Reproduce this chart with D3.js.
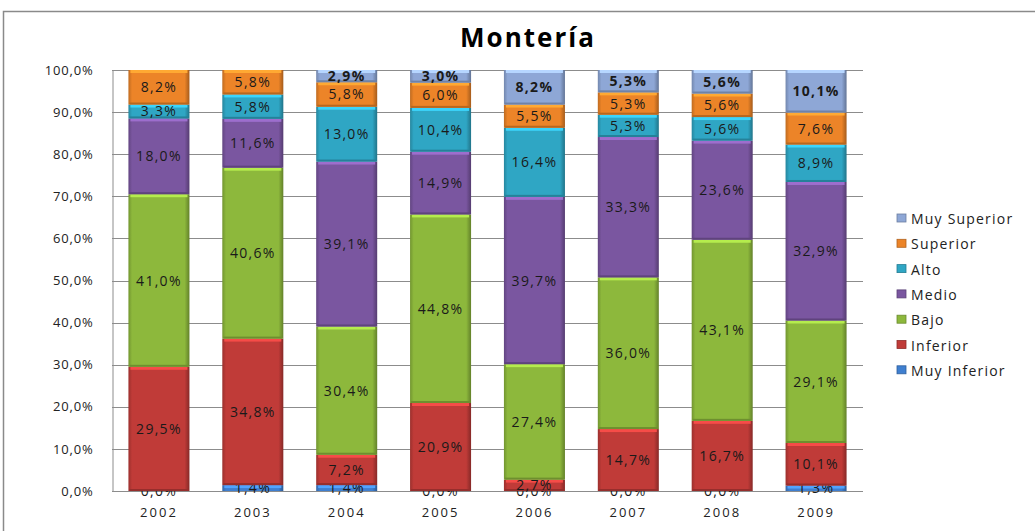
<!DOCTYPE html>
<html>
<head>
<meta charset="utf-8">
<script src="https://cdn.jsdelivr.net/npm/d3@7"></script>
<style>
  body { margin: 0; background: #fff; }
  svg { display: block; }
</style>
</head>
<body>
<svg id="chart"></svg>
<script>
// years on the x axis
const years = ['2002', '2003', '2004', '2005', '2006', '2007', '2008', '2009'];
// series, bottom to top
const seriesNames = ['Muy Inferior', 'Inferior', 'Bajo', 'Medio', 'Alto', 'Superior', 'Muy Superior'];
const muyInferior = [0.0, 1.4, 1.4, 0.0, 0.0, 0.0, 0.0, 1.3];
const inferior    = [29.5, 34.8, 7.2, 20.9, 2.7, 14.7, 16.7, 10.1];
const bajo        = [41.0, 40.6, 30.4, 44.8, 27.4, 36.0, 43.1, 29.1];
const medio       = [18.0, 11.6, 39.1, 14.9, 39.7, 33.3, 23.6, 32.9];
const alto        = [3.3, 5.8, 13.0, 10.4, 16.4, 5.3, 5.6, 8.9];
const superior    = [8.2, 5.8, 5.8, 6.0, 5.5, 5.3, 5.6, 7.6];
const muySuperior = [null, null, 2.9, 3.0, 8.2, 5.3, 5.6, 10.1];
const yTicks = [0, 0.1, 0.2, 0.3, 0.4, 0.5, 0.6, 0.7, 0.8, 0.9, 1.0];
const colors = ['#3f7fd0', '#c03b38', '#8db83c', '#7a56a0', '#2fa6c4', '#ec8428', '#8ea7d6'];

const seriesValues = [muyInferior, inferior, bajo, medio, alto, superior, muySuperior];
const rows = years.map((y, i) => {
  const r = { year: y };
  seriesNames.forEach((s, k) => { r[s] = seriesValues[k][i]; });
  return r;
});

const width = 1035, height = 531;
const margin = { left: 112, right: 172, top: 70, bottom: 40 };
const font = 'Open Sans, sans-serif';

const svg = d3.select('#chart').attr('width', width).attr('height', height);

// outer frame
svg.append('rect')
  .attr('x', 3.5).attr('y', 11.5)
  .attr('width', 1040).attr('height', 530)
  .attr('fill', 'none').attr('stroke', '#8a8a8a').attr('stroke-width', 1.5);

svg.append('text')
  .attr('x', 528).attr('y', 47)
  .attr('text-anchor', 'middle')
  .style('font-family', font)
  .style('font-weight', 'bold')
  .style('font-size', '26px')
  .style('letter-spacing', '2px')
  .text('Montería');

const x = d3.scaleBand()
  .domain(years)
  .range([margin.left, width - margin.right])
  .paddingInner(0.35)
  .paddingOuter(0.175);

const y = d3.scaleLinear()
  .domain([0, 1])
  .range([height - margin.bottom, margin.top]);

// gradients for the bevelled look
const defs = svg.append('defs');
colors.forEach((c, k) => {
  const g = defs.append('linearGradient').attr('id', 'g' + k)
    .attr('x1', 0).attr('x2', 1).attr('y1', 0).attr('y2', 0);
  const base = d3.color(c);
  g.append('stop').attr('offset', '0%').attr('stop-color', base.darker(0.6));
  g.append('stop').attr('offset', '6%').attr('stop-color', base);
  g.append('stop').attr('offset', '92%').attr('stop-color', base);
  g.append('stop').attr('offset', '100%').attr('stop-color', base.darker(1.0));
});

// grid
svg.append('g')
  .selectAll('line')
  .data(yTicks.slice(1))
  .join('line')
  .attr('x1', margin.left).attr('x2', width - margin.right)
  .attr('y1', d => Math.round(y(d)) + 0.5).attr('y2', d => Math.round(y(d)) + 0.5)
  .attr('stroke', '#8c8c8c').attr('stroke-width', 1);

// y axis
const yAxis = svg.append('g')
  .attr('transform', `translate(${margin.left + 0.5},0)`)
  .call(d3.axisLeft(y).tickValues(yTicks).tickSize(0).tickPadding(19)
    .tickFormat(d => d3.format('.1f')(d * 100).replace('.', ',') + '%'));
yAxis.select('.domain').attr('stroke', '#8c8c8c');
yAxis.selectAll('text')
  .style('font-family', font)
  .style('font-size', '13px')
  .style('letter-spacing', '0.8px')
  .attr('fill', '#222');

// x axis
const xAxis = svg.append('g')
  .attr('transform', `translate(0,${Math.round(y(0)) + 0.5})`)
  .call(d3.axisBottom(x).tickSize(0).tickPadding(16));
xAxis.select('.domain').attr('stroke', '#8c8c8c').attr('d', `M${margin.left},0H${width - margin.right}`);
xAxis.selectAll('text')
  .style('font-family', font)
  .style('font-size', '13px')
  .style('letter-spacing', '2px')
  .attr('fill', '#222');

const stack = d3.stack()
  .keys(seriesNames)
  .value((d, k) => d[k] || 0)
  .offset(d3.stackOffsetExpand);
const stacked = stack(rows);

const layers = svg.append('g').selectAll('g')
  .data(stacked)
  .join('g');

layers.selectAll('rect.bar')
  .data((d, k) => d.map(p => ({ p, k })))
  .join('rect')
  .attr('class', 'bar')
  .attr('x', d => x(d.p.data.year))
  .attr('width', x.bandwidth())
  .attr('y', d => y(d.p[1]))
  .attr('height', d => Math.max(0, y(d.p[0]) - y(d.p[1])))
  .attr('fill', d => `url(#g${d.k})`);

// top highlight and bottom shade on each segment
layers.selectAll('rect.hl')
  .data((d, k) => d.map(p => ({ p, k })).filter(d => y(d.p[0]) - y(d.p[1]) > 3))
  .join('rect')
  .attr('class', 'hl')
  .attr('x', d => x(d.p.data.year) + 2)
  .attr('width', x.bandwidth() - 4)
  .attr('y', d => y(d.p[1]))
  .attr('height', 3)
  .attr('fill', d => d3.color(colors[d.k]).brighter(0.7));
layers.selectAll('rect.sh')
  .data((d, k) => d.map(p => ({ p, k })).filter(d => y(d.p[0]) - y(d.p[1]) > 6))
  .join('rect')
  .attr('class', 'sh')
  .attr('x', d => x(d.p.data.year) + 1)
  .attr('width', x.bandwidth() - 2)
  .attr('y', d => y(d.p[0]) - 2)
  .attr('height', 2)
  .attr('fill', d => d3.color(colors[d.k]).darker(0.7));

// data labels
layers.selectAll('text')
  .data((d, k) => d.map(p => ({ p, k, v: p.data[seriesNames[k]] })).filter(d => d.v !== null))
  .join('text')
  .attr('x', d => x(d.p.data.year) + x.bandwidth() / 2)
  .attr('y', d => (y(d.p[0]) + y(d.p[1])) / 2 + 5)
  .attr('text-anchor', 'middle')
  .style('font-family', font)
  .style('font-size', '14px')
  .style('letter-spacing', '1.3px')
  .style('font-weight', d => d.k === 6 ? 'bold' : 'normal')
  .attr('fill', '#1a1a1a')
  .text(d => d3.format('.1f')(d.v).replace('.', ',') + '%');

// legend (top series first)
const legend = svg.append('g')
  .attr('transform', 'translate(897,219)');
const items = legend.selectAll('g')
  .data(seriesNames.slice().reverse())
  .join('g')
  .attr('transform', (d, i) => `translate(0,${i * 25.3})`);
items.append('rect')
  .attr('x', 0).attr('y', -5)
  .attr('width', 9).attr('height', 8)
  .attr('fill', d => colors[seriesNames.indexOf(d)])
  .attr('stroke', d => d3.color(colors[seriesNames.indexOf(d)]).darker(0.8))
  .attr('stroke-width', 0.8);
items.append('text')
  .attr('x', 14).attr('y', 5)
  .style('font-family', font)
  .style('font-size', '14px')
  .style('letter-spacing', '1.2px')
  .attr('fill', '#222')
  .text(d => d);
</script>
</body>
</html>
